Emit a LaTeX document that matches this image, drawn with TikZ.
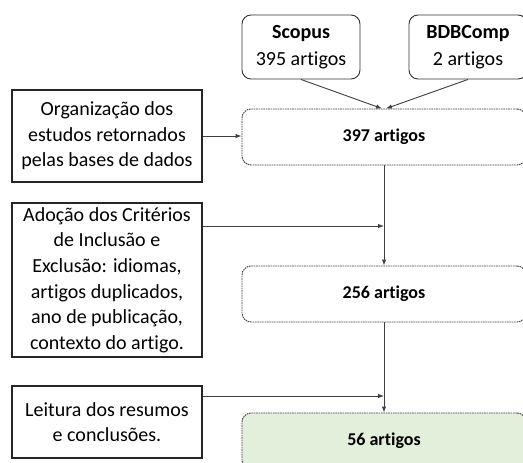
\documentclass[tikz,border=0pt]{standalone}
\usepackage{fontspec}
\setmainfont{Carlito}[Ligatures=NoCommon]
\usetikzlibrary{arrows.meta}
\definecolor{linegray}{HTML}{404040}
\definecolor{boxgreen}{HTML}{E2EFDA}
\begin{document}
\begin{tikzpicture}[x=1pt,y=-1pt,
 leftbox/.style={draw=black!85, line width=1.1pt, minimum width=190pt, align=center, inner sep=0pt, font=\fontsize{20}{25.6}\selectfont},
 srcbox/.style={draw=black!80, line width=0.9pt, rounded corners=9pt, minimum width=118pt, minimum height=64pt, align=center, inner sep=0pt, font=\fontsize{20}{27}\selectfont},
 stagebox/.style={draw=black!75, line width=0.9pt, dash pattern=on 1.6pt off 0.8pt, rounded corners=9pt, minimum width=284pt, minimum height=56pt, inner sep=0pt, font=\bfseries\fontsize{18}{22}\selectfont},
 conn/.style={draw=linegray, line width=0.9pt, -{Latex[length=6pt,width=4.5pt]}},
]
\useasboundingbox (0,0) rectangle (523,463);
\clip (0,0) rectangle (523,463);
\fill[white] (0,0) rectangle (523,463);

\node[srcbox] (scopus) at (301,47) {\textbf{Scopus}\\395 artigos};
\node[srcbox] (bdb) at (468,47) {\textbf{BDBComp}\\2 artigos};

\node[leftbox, minimum height=92pt] (org) at (107,136) {Organização dos\\estudos retornados\\pelas bases de dados};
\node[leftbox, minimum height=154pt] (crit) at (107,280) {Adoção dos Critérios\\de Inclusão e\\Exclusão: idiomas,\\artigos duplicados,\\ano de publicação,\\contexto do artigo.};
\node[leftbox, minimum height=72pt] (leit) at (107,422) {Leitura dos resumos\\e conclusões.};

\node[stagebox] (s397) at (384,137) {397 artigos};
\node[stagebox] (s256) at (384,294) {256 artigos};
\node[stagebox, fill=boxgreen] (s56) at (384,441) {56 artigos};

\coordinate (j1) at (384,226);
\coordinate (j2) at (384,396);

\draw[conn] (scopus.south) -- ([xshift=-2pt]s397.north);
\draw[conn] (bdb.south) -- ([xshift=2pt]s397.north);
\draw[conn] (org.east) -- (org.east -| s397.west);
\draw[conn] (s397) -- (s256);
\draw[conn] (s256) -- (s56);
\draw[conn] (crit.east |- j1) -- (j1);
\draw[conn] (leit.east |- j2) -- (j2);
\end{tikzpicture}
\end{document}
